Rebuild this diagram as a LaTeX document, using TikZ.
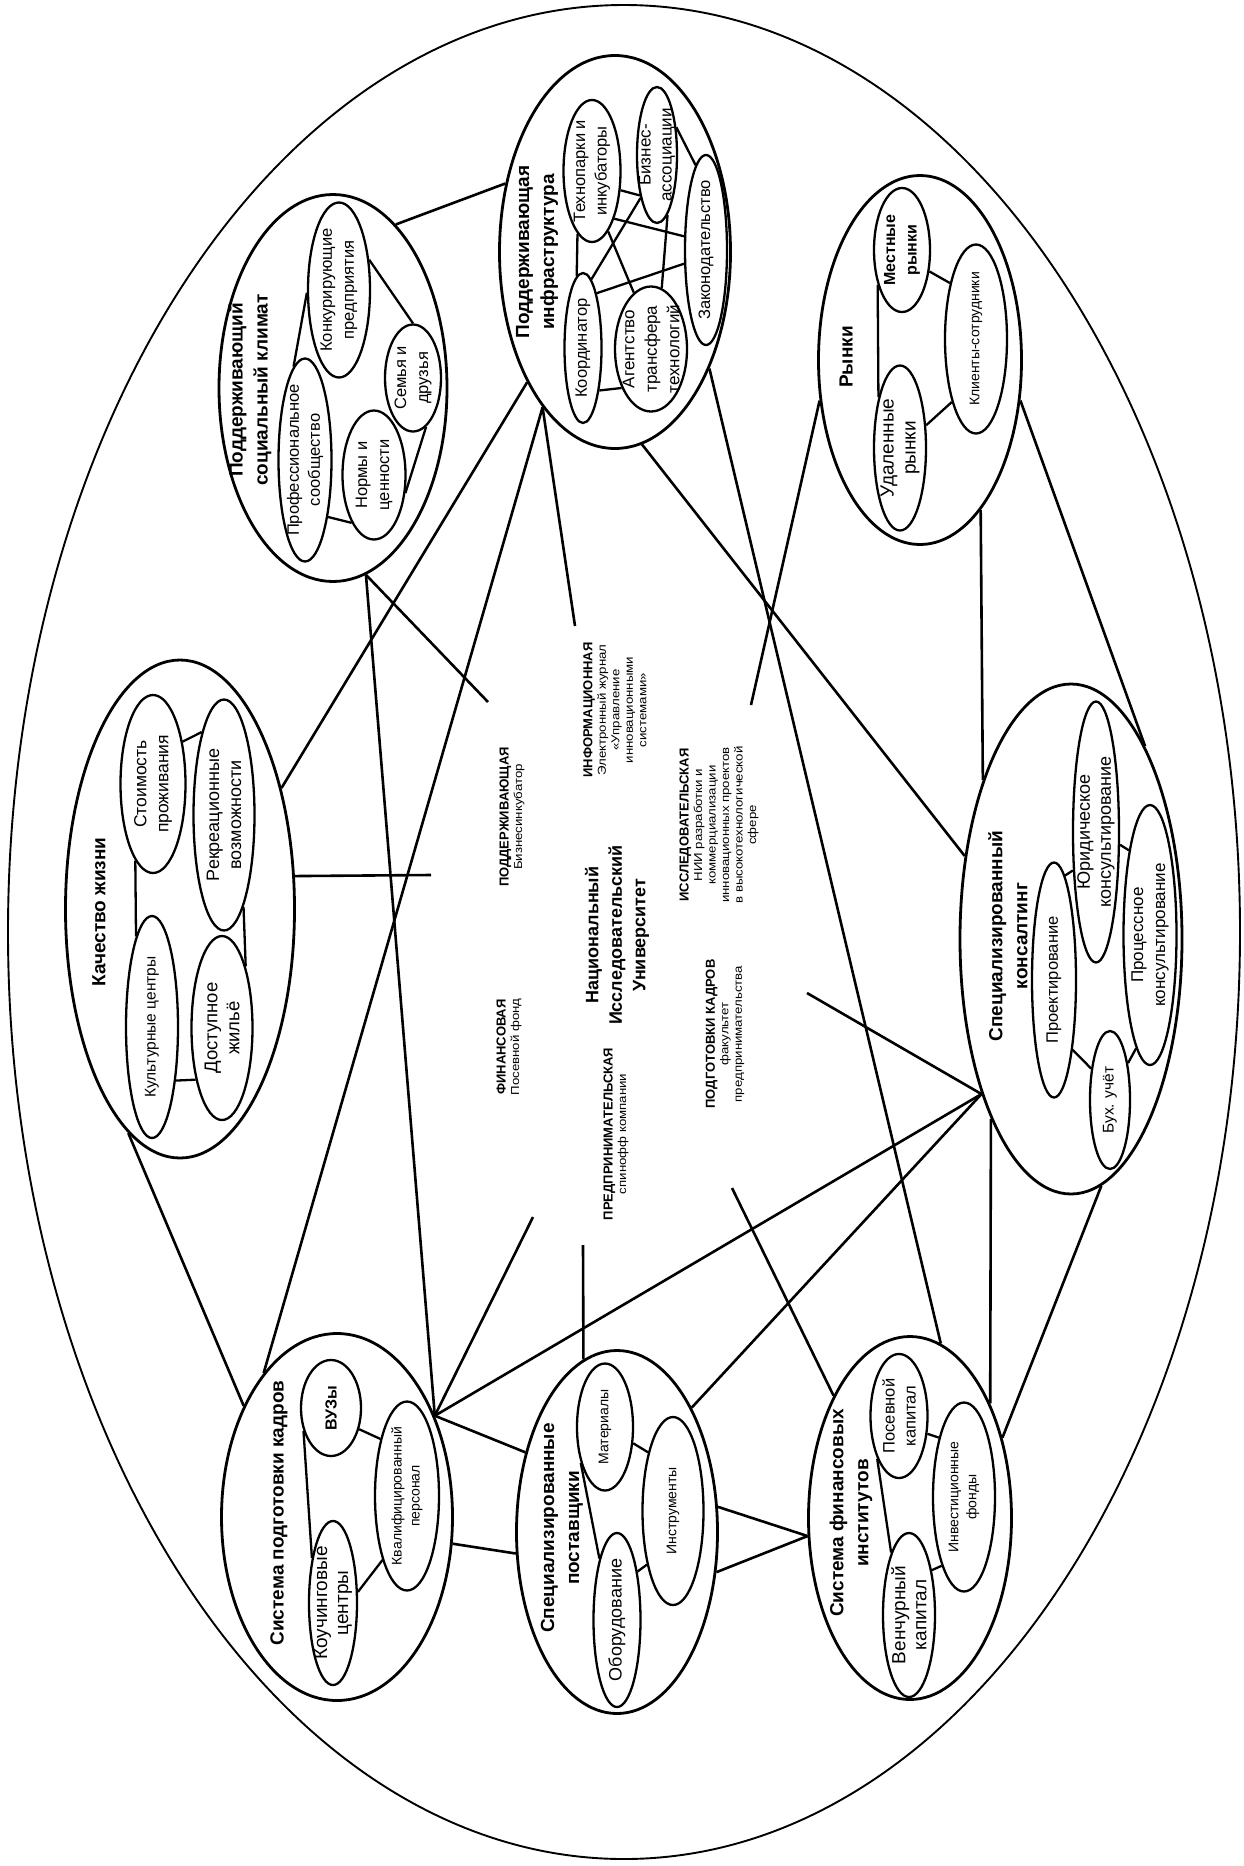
\documentclass[tikz,border=0pt]{standalone}
\usepackage{fontspec}
\setmainfont{Liberation Sans}
\newfontfamily\widesans[FakeStretch=1.15]{Liberation Sans}
\usetikzlibrary{shapes.geometric}
\newcommand\unisub{\widesans\mdseries\fontsize{11.5}{12.5}\selectfont}
\begin{document}
\begin{tikzpicture}[x=1pt, y=-1pt,
  cluster/.style={draw, ellipse, line width=2.8pt, inner sep=0pt},
  part/.style={draw, ellipse, line width=2.3pt, inner sep=0pt},
  lab/.style={rotate=90, align=center, inner sep=0pt},
  title/.style={rotate=90, align=center, inner sep=0pt, font=\bfseries\fontsize{19}{25}\selectfont},
  uni/.style={rotate=90, align=center, inner sep=0pt, font=\bfseries\fontsize{13}{13.5}\selectfont},
  unibig/.style={rotate=90, align=center, inner sep=0pt, font=\bfseries\fontsize{18}{23.5}\selectfont},
  link/.style={line width=2.6pt},
  inlink/.style={line width=2.3pt},
]
\useasboundingbox (0,0) rectangle (1243,1866);
\fill[white] (0,0) rectangle (1243,1866);

% enclosing region
\node[draw, ellipse, line width=1.9pt, inner sep=0pt, minimum width=1232pt, minimum height=1854pt] (outer) at (624,932) {};

% ---------- supporting social climate ----------
\node[cluster, minimum width=228pt, minimum height=387pt] (SC) at (333,388) {};
\node[title] (SCt) at (250,390) {Поддерживающий\\социальный климат};
\node[part, minimum width=62pt, minimum height=175pt,
  label={[lab, font=\fontsize{16.5}{22}\selectfont]center:{Конкурирующие\\предприятия}}] (kp) at (339,290) {};
\node[part, minimum width=56pt, minimum height=107pt,
  label={[lab, font=\fontsize{16.5}{22}\selectfont]center:{Семья и\\друзья}}] (sd) at (413,378) {};
\node[part, minimum width=53pt, minimum height=203pt,
  label={[lab, font=\fontsize{16.5}{21}\selectfont]center:{Профессиональное\\сообщество}}] (ps) at (305,460) {};
\node[part, minimum width=63pt, minimum height=129pt,
  label={[lab, font=\fontsize{16.5}{22}\selectfont]center:{Нормы и\\ценности}}] (nc) at (374,475) {};
\draw[inlink] (kp.45) -- (sd.90);
\draw[inlink] (kp.185) -- (ps.97);
\draw[inlink] (ps.292) -- (nc.245);
\draw[inlink] (nc.330) -- (sd.285);

% ---------- supporting infrastructure ----------
\node[cluster, minimum width=231pt, minimum height=393pt] (INF) at (615,252) {};
\node[title] (INFt) at (537,252) {Поддерживающая\\инфраструктура};
\node[part, minimum width=57pt, minimum height=142pt,
  label={[lab, font=\fontsize{16.5}{21.5}\selectfont]center:{Технопарки и\\инкубаторы}}] (tp) at (592,171) {};
\node[part, minimum width=40pt, minimum height=136pt,
  label={[lab, font=\fontsize{17}{21}\selectfont]center:{Бизнес-\\ассоциации}}] (ba) at (657,155) {};
\node[part, minimum width=42pt, minimum height=190pt,
  label={[lab, font=\fontsize{16.5}{21}\selectfont]center:{Законодательство}}] (zk) at (706,250) {};
\node[part, minimum width=37pt, minimum height=150pt,
  label={[lab, font=\fontsize{16.5}{21}\selectfont]center:{Координатор}}] (ko) at (583,348) {};
\node[part, minimum width=72pt, minimum height=125pt,
  label={[lab, font=\fontsize{17}{22.5}\selectfont]center:{Агентство\\трансфера\\технологий}}] (at) at (651,349) {};
\draw[inlink] (tp.257) -- (ko.95);
\draw[inlink] (tp.326) -- (ba.247);
\draw[inlink] (tp.285) -- (at.107);
\draw[inlink] (tp.295) -- (zk.148);
\draw[inlink] (ba.249) -- (ko.83);
\draw[inlink] (ba.280) -- (at.80);
\draw[inlink] (ba.55) -- (zk.97);
\draw[inlink] (ko.76) -- (zk.212);
\draw[inlink] (ko.291) -- (at.233);

% ---------- markets ----------
\node[cluster, minimum width=203pt, minimum height=369pt] (MKT) at (920,360) {};
\node[title] (MKTt) at (846,357) {Рынки};
\node[part, minimum width=56pt, minimum height=124pt,
  label={[lab, font=\bfseries\fontsize{16}{21.5}\selectfont]center:{Местные\\рынки}}] (mr) at (902,250) {};
\node[part, minimum width=52pt, minimum height=165pt,
  label={[lab, font=\fontsize{19}{22}\selectfont]center:{Удаленные\\рынки}}] (ur) at (900,448) {};
\node[part, minimum width=62pt, minimum height=189pt,
  label={[lab, font=\fontsize{14}{18}\selectfont]center:{Клиенты-сотрудники}}] (ks) at (976,339) {};
\draw[inlink] (mr.235) -- (ur.113);
\draw[inlink] (mr.322) -- (ks.115);
\draw[inlink] (ur.41) -- (ks.249);

% ---------- quality of life ----------
\node[cluster, minimum width=229pt, minimum height=498pt] (QL) at (180,909) {};
\node[title] (QLt) at (99,912) {Качество жизни};
\node[part, minimum width=65pt, minimum height=178pt,
  label={[lab, font=\fontsize{17.5}{22}\selectfont]center:{Стоимость\\проживания}}] (sp) at (153,784) {};
\node[part, minimum width=61pt, minimum height=231pt,
  label={[lab, font=\fontsize{18}{22}\selectfont]center:{Рекреационные\\возможности}}] (rv) at (224,815) {};
\node[part, minimum width=52pt, minimum height=222pt,
  label={[lab, font=\fontsize{15.5}{20}\selectfont]center:{Культурные центры}}] (kc) at (152,1027) {};
\node[part, minimum width=61pt, minimum height=184pt,
  label={[lab, font=\fontsize{18.5}{22}\selectfont]center:{Доступное\\жильё}}] (dj) at (222,1028) {};
\draw[inlink] (sp.55) -- (rv.105);
\draw[inlink] (sp.257) -- (kc.100);
\draw[inlink] (rv.282) -- (dj.69);
\draw[inlink] (kc.294) -- (dj.243);

% ---------- training system ----------
\node[cluster, minimum width=231pt, minimum height=367pt] (HR) at (337,1517) {};
\node[title] (HRt) at (279,1513) {Система подготовки кадров};
\node[part, minimum width=60pt, minimum height=96pt,
  label={[lab, font=\bfseries\fontsize{16}{20}\selectfont]center:{ВУЗы}}] (vz) at (331,1408) {};
\node[part, minimum width=48pt, minimum height=164pt,
  label={[lab, font=\fontsize{19}{21}\selectfont]center:{Коучинговые\\центры}}] (kch) at (333,1603) {};
\node[part, minimum width=64pt, minimum height=189pt,
  label={[lab, font=\fontsize{14}{18}\selectfont]center:{Квалифицированный\\персонал}}] (kq) at (407,1496) {};
\draw[inlink] (vz.220) -- (kch.115);
\draw[inlink] (vz.323) -- (kq.115);
\draw[inlink] (kch.24) -- (kq.249);

% ---------- specialised suppliers ----------
\node[cluster, minimum width=201pt, minimum height=363pt] (SUP) at (617,1532) {};
\node[title] (SUPt) at (562,1528) {Специализированные\\поставщики};
\node[part, minimum width=56pt, minimum height=127pt,
  label={[lab, font=\fontsize{14}{18}\selectfont]center:{Материалы}}] (ma) at (605,1427) {};
\node[part, minimum width=61pt, minimum height=188pt,
  label={[lab, font=\fontsize{14}{18}\selectfont]center:{Инструменты}}] (in) at (673,1511) {};
\node[part, minimum width=47pt, minimum height=174pt,
  label={[lab, font=\fontsize{18}{22}\selectfont]center:{Оборудование}}] (ob) at (617,1620) {};
\draw[inlink] (ma.330) -- (in.113);
\draw[inlink] (ma.236) -- (ob.106);
\draw[inlink] (ob.67) -- (in.244);

% ---------- financial institutions ----------
\node[cluster, minimum width=203pt, minimum height=363pt] (FIN) at (910,1518) {};
\node[title] (FINt) at (851,1513) {Система финансовых\\институтов};
\node[part, minimum width=57pt, minimum height=124pt,
  label={[lab, font=\fontsize{16.5}{21}\selectfont]center:{Посевной\\капитал}}] (pk) at (899,1416) {};
\node[part, minimum width=62pt, minimum height=189pt,
  label={[lab, font=\fontsize{14}{18}\selectfont]center:{Инвестиционные\\фонды}}] (ifd) at (964,1497) {};
\node[part, minimum width=52pt, minimum height=164pt,
  label={[lab, font=\fontsize{19}{21}\selectfont]center:{Венчурный\\капитал}}] (vk) at (909,1615) {};
\draw[inlink] (pk.328) -- (ifd.113);
\draw[inlink] (pk.243) -- (vk.106);
\draw[inlink] (vk.63) -- (ifd.252);

% ---------- specialised consulting ----------
\node[cluster, minimum width=222pt, minimum height=510pt] (CONS) at (1071,939) {};
\node[title] (CONSt) at (1008,936) {Специализированный\\консалтинг};
\node[part, minimum width=44pt, minimum height=235pt,
  label={[lab, font=\fontsize{16.5}{21}\selectfont]center:{Проектирование}}] (pr) at (1054,980) {};
\node[part, minimum width=46pt, minimum height=261pt,
  label={[lab, font=\fontsize{18}{21}\selectfont]center:{Юридическое\\консультирование}}] (yk) at (1096,832) {};
\node[part, minimum width=53pt, minimum height=260pt,
  label={[lab, font=\fontsize{17}{22}\selectfont]center:{Процессное\\консультирование}}] (pc) at (1150,935) {};
\node[part, minimum width=40pt, minimum height=138pt,
  label={[lab, font=\fontsize{15.5}{20}\selectfont]center:{Бух. учёт}}] (bu) at (1110,1100) {};
\draw[inlink] (pr.84) -- (yk.239);
\draw[inlink] (yk.332) -- (pc.104);
\draw[inlink] (pr.285) -- (bu.121);
\draw[inlink] (bu.64) -- (pc.263);

% ---------- university in the middle ----------
\node[uni] (u1) at (512,817) {ПОДДЕРЖИВАЮЩАЯ\\\unisub Бизнесинкубатор};
\node[uni] (u2) at (615,710) {ИНФОРМАЦИОННАЯ\\\unisub Электронный журнал\\\unisub «Управление\\\unisub инновационными\\\unisub системами»};
\node[unibig] (u3) at (617,935) {Национальный\\Исследовательский\\Университет};
\node[uni] (u4) at (719,825) {ИССЛЕДОВАТЕЛЬСКАЯ\\\unisub НИИ разработки и\\\unisub коммерциализации\\\unisub инновационных проектов\\\unisub в высокотехнологической\\\unisub сфере};
\node[uni] (u5) at (509,1047) {ФИНАНСОВАЯ\\\unisub Посевной фонд};
\node[uni] (u6) at (616,1134) {ПРЕДПРИНИМАТЕЛЬСКАЯ\\\unisub спинофф компании};
\node[uni] (u7) at (725,1034) {ПОДГОТОВКИ КАДРОВ\\\unisub факультет\\\unisub предпринимательства};

% free ends of the links that reach the university
\coordinate (eSC) at (488,702);
\coordinate (eQL) at (431,875);
\coordinate (eINF) at (575,626);
\coordinate (eMKT) at (751,705);
\coordinate (eCONS) at (807,993);
\coordinate (eFIN) at (732,1188);
\coordinate (eSUP) at (583,1245);
\coordinate (eHR) at (533,1217);

% ---------- links between the groups ----------
\draw[link] (SC.69) -- (INF.148);
\draw[link] (SC.280) -- (HR.46);
\draw[link] (SC.280) -- (eSC);
\draw[link] (INF.236) -- (QL.50);
\draw[link] (INF.245) -- (HR.117);
\draw[link] (INF.245) -- (eINF);
\draw[link] (INF.278) -- (CONS.142);
\draw[link] (INF.309) -- (FIN.80);
\draw[link] (MKT.202) -- (eMKT);
\draw[link] (MKT.292) -- (CONS.119);
\draw[link] (MKT.338) -- (CONS.69);
\draw[link] (QL.16) -- (eQL);
\draw[link] (QL.257) -- (HR.130);
\draw[link] (HR.46) -- (SUP.139);
\draw[link] (HR.347) -- (SUP.192);
\draw[link] (HR.46) -- (CONS.240);
\draw[link] (HR.46) -- (eHR);
\draw[link] (SUP.101) -- (eSUP);
\draw[link] (SUP.59) -- (CONS.240);
\draw[link] (SUP.14) -- (FIN.190);
\draw[link] (SUP.338) -- (FIN.190);
\draw[link] (FIN.122) -- (eFIN);
\draw[link] (FIN.55) -- (CONS.246);
\draw[link] (FIN.41) -- (CONS.277);
\draw[link] (CONS.240) -- (eCONS);
\end{tikzpicture}
\end{document}
